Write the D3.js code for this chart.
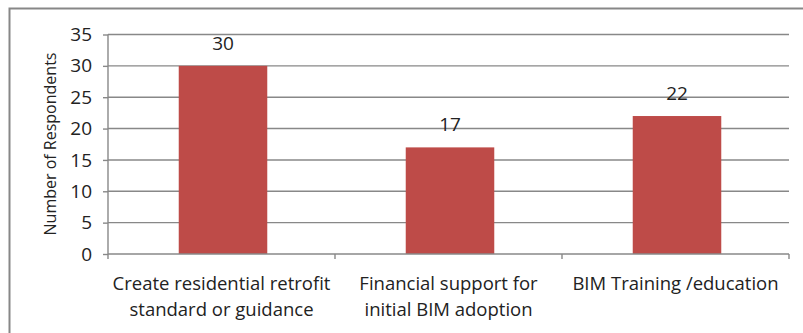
<!DOCTYPE html>
<html>
<head>
<meta charset="utf-8">
<script src="https://cdn.jsdelivr.net/npm/d3@7"></script>
<style>
  body { margin:0; background:#fff; }
  .textos { font-family:"Open Sans", sans-serif; fill:#222; }
</style>
</head>
<body>
<div id="zona_grafica"></div>
<script>
// datos
var categorias = ["Create residential retrofit standard or guidance",
                  "Financial support for initial BIM adoption",
                  "BIM Training /education"]
var etiquetas = [["Create residential retrofit","standard or guidance"],
                 ["Financial support for","initial BIM adoption"],
                 ["BIM Training /education"]]
var respuestas = [30, 17, 22]
var ticksY = [0,5,10,15,20,25,30,35]

var width = 803, height = 333
var margin = {top:34.5, right:14, bottom:79, left:108}

var svg = d3.select("#zona_grafica")
    .append("svg")
    .attr("width", width)
    .attr("height", height)

// marco (solo arriba e izquierda se ven)
svg.append("path")
    .attr("d", "M9.5," + height + " V8.5 H" + width)
    .attr("fill", "none")
    .attr("stroke", "#878787")
    .attr("stroke-width", 2)

var escalaX = d3.scaleBand()
    .domain(categorias)
    .range([margin.left, width - margin.right])

var escalaY = d3.scaleLinear()
    .domain([0, 35])
    .range([height - margin.bottom, margin.top])

// rejilla
svg.append("g")
    .selectAll("line")
    .data(ticksY.filter(d => d > 0)).enter()
    .append("line")
    .attr("x1", margin.left)
    .attr("x2", width - margin.right)
    .attr("y1", d => escalaY(d))
    .attr("y2", d => escalaY(d))
    .attr("stroke", "#888")
    .attr("stroke-width", 1.4)

// barras
var anchoBarra = escalaX.bandwidth() * 0.39
svg.append("g")
    .selectAll(".bar")
    .data(respuestas).enter()
    .append("rect")
    .attr("class", "bar")
    .attr("x", (d,i) => escalaX(categorias[i]) + escalaX.bandwidth()/2 - anchoBarra/2 + 1.5)
    .attr("y", d => escalaY(d))
    .attr("width", anchoBarra)
    .attr("height", d => escalaY(0) - escalaY(d))
    .attr("fill", "#BE4B48")

// etiquetas de valor
svg.append("g")
    .selectAll("text")
    .data(respuestas).enter()
    .append("text")
    .attr("class", "textos")
    .attr("x", (d,i) => escalaX(categorias[i]) + escalaX.bandwidth()/2 + 1.5)
    .attr("y", d => escalaY(d) - 16)
    .attr("text-anchor", "middle")
    .style("font-size", "19px")
    .text(d => d)

// eje Y
var ejeY = d3.axisLeft(escalaY)
    .tickValues(ticksY)
    .tickSize(5)
    .tickPadding(11)
svg.append("g")
    .attr("class", "ejeY")
    .attr("transform", "translate(" + margin.left + ",0)")
    .call(ejeY)
    .call(g => g.selectAll("line,path").attr("stroke", "#888").attr("stroke-width", 1.4))
    .call(g => g.select(".domain").attr("d", "M0," + escalaY(35) + "V" + escalaY(0)))
    .call(g => g.selectAll("text").attr("class", "textos").style("font-size", "19px").attr("fill", "#222"))

// eje X
var ejeX = d3.axisBottom(escalaX).tickSize(0).tickFormat("")
var gx = svg.append("g")
    .attr("class", "ejeX")
    .attr("transform", "translate(0," + escalaY(0) + ")")
    .call(ejeX)
gx.select(".domain").attr("d", "M" + margin.left + ",0H" + (width - margin.right)).attr("stroke", "#888").attr("stroke-width", 1.4)
var limites = categorias.map(c => escalaX(c)).concat([width - margin.right])
gx.selectAll(".lim")
    .data(limites).enter()
    .append("line")
    .attr("x1", d => d).attr("x2", d => d)
    .attr("y1", 0).attr("y2", 5)
    .attr("stroke", "#888").attr("stroke-width", 1.4)

gx.selectAll(".cat")
    .data(etiquetas).enter()
    .append("text")
    .attr("class", "textos")
    .attr("text-anchor", "middle")
    .style("font-size", "18.5px")
    .attr("transform", (d,i) => "translate(" + (escalaX(categorias[i]) + escalaX.bandwidth()/2) + ",36)")
    .selectAll("tspan")
    .data(d => d).enter()
    .append("tspan")
    .attr("x", 0)
    .attr("dy", (d,i) => i == 0 ? 0 : 26)
    .text(d => d)

// titulo eje Y
svg.append("text")
    .attr("class", "textos")
    .attr("transform", "translate(56,144) rotate(-90)")
    .attr("text-anchor", "middle")
    .style("font-size", "16px")
    .text("Number of Respondents")
</script>
</body>
</html>
